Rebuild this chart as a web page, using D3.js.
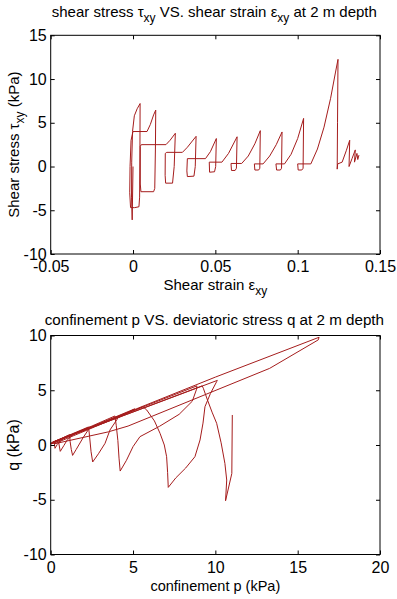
<!DOCTYPE html>
<html>
<head>
<meta charset="utf-8">
<script src="https://cdn.jsdelivr.net/npm/d3@7"></script>
<style>
  html, body { margin: 0; padding: 0; background: #fff; }
  svg { display: block; font-family: "Liberation Sans", Arial, Helvetica, sans-serif; }
  .tick line { stroke: #000; }
  .tick text { font-size: 16px; fill: #000; }
</style>
</head>
<body>
<div id="chart"></div>
<script>
// Two MATLAB style panels: shear stress vs strain, and p-q stress path

const width = 397;
const height = 599;

// top panel data: shear strain (-) and shear stress (kPa)
const shearStrain = [
  0, -0.0005, -0.0009, -0.0008, -0.0003, 0.0008, 0.0025, 0.0043,
  0.0042, 0.0040, 0.0036, 0.0010, -0.0015, -0.0020, -0.0018, -0.0012, 0.0000,
  0.0085, 0.0105, 0.0125, 0.0138,
  0.0136, 0.0132, 0.0125, 0.0048, 0.0044, 0.0044, 0.0050,
  0.0200, 0.0225, 0.0257,
  0.0250, 0.0240, 0.0198, 0.0195, 0.0196, 0.0205,
  0.0300, 0.0330, 0.0383,
  0.0378, 0.0370, 0.0330, 0.0327, 0.0330,
  0.0440, 0.0470, 0.0506,
  0.0502, 0.0495, 0.0465, 0.0463,
  0.0540, 0.0580, 0.0632,
  0.0628, 0.0620, 0.0598, 0.0595,
  0.0660, 0.0700, 0.0740, 0.0773,
  0.0770, 0.0763, 0.0740, 0.0737,
  0.0790, 0.0830, 0.0870, 0.0905,
  0.0902, 0.0895, 0.0872, 0.0868,
  0.0920, 0.0960, 0.1000, 0.1036,
  0.1033, 0.1025, 0.1003, 0.1000,
  0.1080, 0.1120, 0.1160, 0.1200, 0.1230, 0.1245,
  0.1242, 0.1240, 0.1243, 0.1270, 0.1295, 0.1316,
  0.1312, 0.1330, 0.1350, 0.1345, 0.1360, 0.1365, 0.1372
];
const shearStress = [
  0, -6.1, -3.5, 0.5, 4.0, 5.8, 6.6, 7.2,
  2.0, -3.5, -4.6, -4.7, -4.7, -3.0, 0.0, 3.0, 4.0,
  4.0, 4.8, 5.9, 6.45,
  2.0, -2.5, -2.88, -2.88, -2.0, 2.3, 2.5,
  2.5, 3.0, 3.8,
  0.0, -1.9, -1.9, -1.0, 1.5, 1.62,
  1.62, 2.2, 3.45,
  0.0, -1.1, -1.15, -0.5, 0.9,
  0.9, 1.7, 3.2,
  0.0, -0.6, -0.65, 0.5,
  0.5, 1.5, 3.4,
  -0.2, -0.45, -0.45, 0.35,
  0.35, 1.2, 2.6, 4.1,
  -0.2, -0.4, -0.4, 0.3,
  0.3, 1.2, 2.5, 3.95,
  -0.2, -0.4, -0.4, 0.3,
  0.3, 1.4, 3.2, 5.5,
  -0.2, -0.4, -0.4, 0.3,
  0.3, 2.0, 4.5, 7.8, 10.8, 12.25,
  5.0, -0.3, 0.3, 0.5, 1.8, 3.0,
  0.0, 0.9, 1.9, 0.5, 1.5, 0.8, 1.3
];

// bottom panel data: confinement p (kPa) and deviatoric stress q (kPa)
const confinementP = [
  0.00, 0.35, 0.22, 0.26, 0.40, 0.75, 0.05,
  0.52, 0.50, 0.58, 0.80, 1.00, 1.35, 0.05,
  1.15, 1.18, 1.25, 1.33, 1.55, 1.98, 2.40, 0.10,
  2.30, 2.36, 2.45, 2.55, 2.90, 3.30, 3.60, 4.10, 5.10, 0.10,
  3.90, 3.98, 4.08, 4.15, 4.22, 4.60, 5.00, 5.42, 6.60, 7.80, 8.60, 8.86, 8.88, 0.20,
  0.00, 5.20, 10.00, 16.30, 16.25, 13.30, 4.70, 3.50, 0.20,
  5.60, 5.83, 6.30, 6.64, 6.90, 7.04, 7.10, 7.14, 7.60, 8.20, 8.76, 9.07, 9.25, 9.37, 9.70, 10.08, 10.12, 0.20,
  9.20, 9.27, 9.50, 9.80, 10.08, 10.35, 10.58, 10.69, 10.62, 11.00, 11.03
];
const deviatoricQ = [
  0.10, 0.40, 0.22, -0.30, 0.05, 0.60, 0.10,
  0.48, 0.10, -0.58, -0.05, 0.45, 0.95, 0.15,
  0.95, 0.30, -0.40, -0.95, -0.40, 0.70, 1.65, 0.25,
  1.65, 0.80, -0.60, -1.55, -0.80, 0.15, 1.37, 2.50, 3.30, 0.15,
  2.65, 1.80, 0.40, -1.20, -2.38, -1.40, -0.15, 0.76, 1.70, 2.80, 4.00, 5.10, 5.40, 0.30,
  0.15, 3.30, 6.20, 9.84, 9.60, 7.00, 1.73, 1.20, 0.10,
  3.50, 3.20, 2.20, 1.07, 0.00, -1.07, -2.50, -3.87, -3.00, -2.10, -1.07, 0.46, 2.00, 3.50, 4.70, 5.79, 5.90, 0.30,
  5.40, 5.18, 4.20, 3.00, 1.98, 0.20, -1.68, -3.20, -5.09, -2.60, 2.74
];

// axis ticks
const strainTicks = [-0.05, 0, 0.05, 0.1, 0.15];
const stressTicks = [-10, -5, 0, 5, 10, 15];
const pTicks = [0, 5, 10, 15, 20];
const qTicks = [-10, -5, 0, 5, 10];

const lineColor = '#a51c1c';

const svg = d3.select('#chart')
  .append('svg')
  .attr('width', width)
  .attr('height', height);

function drawPanel(opts) {
  const { box, xDomain, yDomain, xTicks, yTicks, xFmt, xs, ys } = opts;
  const x = d3.scaleLinear().domain(xDomain).range([box.left, box.right]);
  const y = d3.scaleLinear().domain(yDomain).range([box.bottom, box.top]);

  const g = svg.append('g');

  // data line first, axes on top
  const pts = xs.map((v, i) => [v, ys[i]]);
  g.append('path')
    .datum(pts)
    .attr('fill', 'none')
    .attr('stroke', lineColor)
    .attr('stroke-width', 1)
    .attr('stroke-linejoin', 'round')
    .attr('d', d3.line().x(d => x(d[0])).y(d => y(d[1])));

  // ticks inward on all four sides
  g.append('g')
    .attr('transform', `translate(0,${box.bottom})`)
    .call(d3.axisBottom(x).tickValues(xTicks).tickFormat(xFmt).tickSize(-4).tickSizeOuter(0).tickPadding(7))
    .call(a => a.select('.domain').remove())
    .call(a => a.selectAll('text').attr('font-family', null).attr('font-size', null));
  g.append('g')
    .attr('transform', `translate(0,${box.top})`)
    .call(d3.axisTop(x).tickValues(xTicks).tickFormat('').tickSize(-4).tickSizeOuter(0))
    .call(a => a.select('.domain').remove());
  g.append('g')
    .attr('transform', `translate(${box.left},0)`)
    .call(d3.axisLeft(y).tickValues(yTicks).tickFormat(d => d).tickSize(-4).tickSizeOuter(0).tickPadding(4))
    .call(a => a.select('.domain').remove())
    .call(a => a.selectAll('text').attr('font-family', null).attr('font-size', null));
  g.append('g')
    .attr('transform', `translate(${box.right},0)`)
    .call(d3.axisRight(y).tickValues(yTicks).tickFormat('').tickSize(-4).tickSizeOuter(0))
    .call(a => a.select('.domain').remove());

  g.append('rect')
    .attr('x', box.left)
    .attr('y', box.top)
    .attr('width', box.right - box.left)
    .attr('height', box.bottom - box.top)
    .attr('fill', 'none')
    .attr('stroke', '#000')
    .attr('stroke-width', 1);

  return g;
}

// text with subscripts: parts = [[text, isSub], ...]
function richText(parent, parts, attrs, size) {
  const t = parent.append('text')
    .attr('font-size', size + 'px')
    .attr('fill', '#000');
  Object.entries(attrs).forEach(([k, v]) => t.attr(k, v));
  let sub = false;
  parts.forEach(([s, isSub]) => {
    const ts = t.append('tspan').text(s);
    if (isSub && !sub) ts.attr('dy', size * 0.3).attr('font-size', (size * 0.8) + 'px');
    else if (!isSub && sub) ts.attr('dy', -size * 0.3);
    sub = isSub;
  });
  return t;
}

const fmtStrain = d => d === 0 ? '0' : String(d);

// top panel
const topBox = { left: 50.7, right: 380, top: 35.3, bottom: 254 };
const gTop = drawPanel({
  box: topBox, xDomain: [-0.05, 0.15], yDomain: [-10, 15],
  xTicks: strainTicks, yTicks: stressTicks, xFmt: fmtStrain,
  xs: shearStrain, ys: shearStress
});
richText(gTop, [['shear stress τ', false], ['xy', true], [' VS. shear strain ε', false], ['xy', true], [' at 2 m depth', false]],
  { x: (topBox.left + topBox.right) / 2 - 1, y: 17, 'text-anchor': 'middle' }, 15);
richText(gTop, [['Shear strain ε', false], ['xy', true]],
  { x: (topBox.left + topBox.right) / 2, y: 290, 'text-anchor': 'middle' }, 15);
richText(gTop, [['Shear stress τ', false], ['xy', true], [' (kPa)', false]],
  { transform: `translate(19,${(topBox.top + topBox.bottom) / 2}) rotate(-90)`, 'text-anchor': 'middle' }, 15);

// bottom panel
const botBox = { left: 50.7, right: 380, top: 335.5, bottom: 554.5 };
const gBot = drawPanel({
  box: botBox, xDomain: [0, 20], yDomain: [-10, 10],
  xTicks: pTicks, yTicks: qTicks, xFmt: d => d,
  xs: confinementP, ys: deviatoricQ
});
richText(gBot, [['confinement p VS. deviatoric stress q at 2 m depth', false]],
  { x: (botBox.left + botBox.right) / 2 - 1, y: 325, 'text-anchor': 'middle' }, 15.2);
richText(gBot, [['confinement p (kPa)', false]],
  { x: (botBox.left + botBox.right) / 2, y: 591, 'text-anchor': 'middle' }, 14.5);
richText(gBot, [['q (kPa)', false]],
  { transform: `translate(19,${(botBox.top + botBox.bottom) / 2}) rotate(-90)`, 'text-anchor': 'middle' }, 16);
</script>
</body>
</html>
